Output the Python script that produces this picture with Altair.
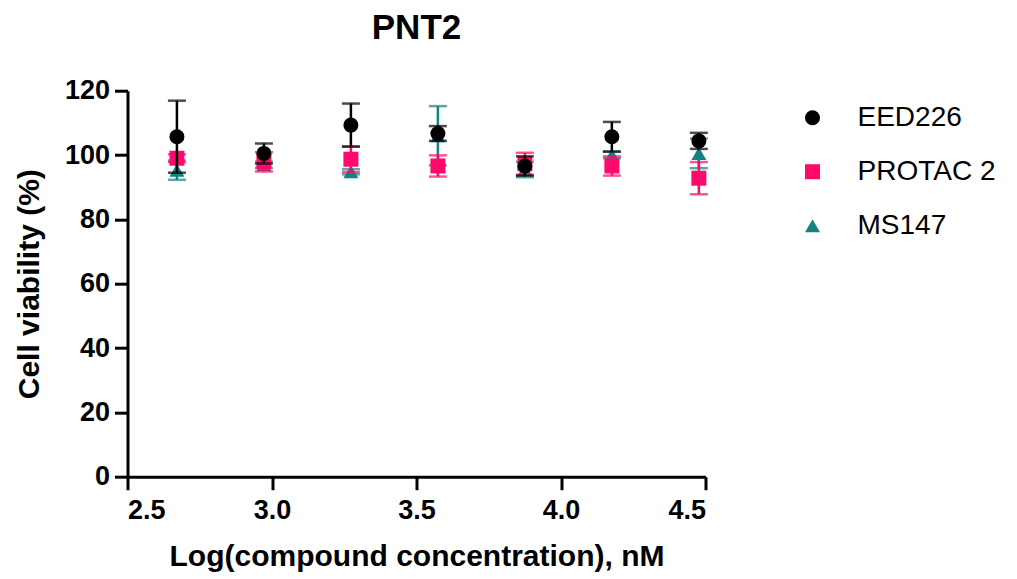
import altair as alt
import pandas as pd

# log10 of compound concentration (nM)
log_conc = [2.671, 2.972, 3.273, 3.574, 3.875, 4.176, 4.477]

series_names = ["EED226", "PROTAC 2", "MS147"]
series_colors = ["#000000", "#FF0A6C", "#138282"]
series_shapes = ["circle", "square", "triangle-up"]

eed_mean = [105.7, 100.5, 109.3, 106.7, 96.6, 105.7, 104.4]
eed_sd = [11.2, 3.1, 6.7, 2.3, 3.0, 4.6, 2.5]
protac_mean = [99.0, 97.9, 98.7, 96.6, 97.3, 96.6, 92.8]
protac_sd = [1.2, 3.0, 4.0, 3.3, 3.4, 3.0, 5.0]
ms_mean = [95.3, 97.0, 94.8, 106.0, 95.5, 100.0, 100.5]
ms_sd = [3.0, 1.0, 0.8, 9.2, 2.4, 1.0, 4.6]

means = {"EED226": eed_mean, "PROTAC 2": protac_mean, "MS147": ms_mean}
sds = {"EED226": eed_sd, "PROTAC 2": protac_sd, "MS147": ms_sd}

rows = []
for s in series_names:
    for x, m, sd in zip(log_conc, means[s], sds[s]):
        rows.append({"series": s, "x": x, "mean": m, "lo": m - sd, "hi": m + sd})
df = pd.DataFrame(rows)

FONT = "Liberation Sans"

x_enc = alt.X(
    "x:Q",
    scale=alt.Scale(domain=[2.5, 4.5], nice=False, zero=False),
    axis=alt.Axis(
        values=[2.5, 3.0, 3.5, 4.0, 4.5], format=".1f",
        title="Log(compound concentration), nM",
        labelFontSize=27, labelFont=FONT, labelFontWeight="bold", labelColor="black",
        labelPadding=8,
        titleFontSize=30, titleFont=FONT, titleFontWeight="bold", titleColor="black",
        titlePadding=18,
        domainColor="black", domainWidth=3, tickColor="black", tickWidth=3, tickSize=13,
        grid=False,
    ),
)
y_scale = alt.Scale(domain=[0, 120], nice=False, zero=True)
y_axis = alt.Axis(
    values=[0, 20, 40, 60, 80, 100, 120],
    title="Cell viability (%)",
    labelFontSize=27, labelFont=FONT, labelFontWeight="bold", labelColor="black",
    labelPadding=5,
    titleFontSize=30, titleFont=FONT, titleFontWeight="bold", titleColor="black",
    titlePadding=20,
    domainColor="black", domainWidth=3, tickColor="black", tickWidth=3, tickSize=13,
    grid=False,
)

layers = []
draw_order = ["MS147", "PROTAC 2", "EED226"]
for s in draw_order:
    col = series_colors[series_names.index(s)]
    base = alt.Chart(df).transform_filter(alt.datum.series == s)
    rule = base.mark_rule(strokeWidth=2.5, color=col).encode(
        x=x_enc, y=alt.Y("lo:Q", scale=y_scale, axis=y_axis), y2="hi:Q"
    )
    cap_hi = base.mark_tick(orient="horizontal", thickness=2.5, size=18, color=col).encode(
        x=x_enc, y=alt.Y("hi:Q", scale=y_scale, axis=y_axis)
    )
    cap_lo = base.mark_tick(orient="horizontal", thickness=2.5, size=18, color=col).encode(
        x=x_enc, y=alt.Y("lo:Q", scale=y_scale, axis=y_axis)
    )
    pts = base.mark_point(filled=True, size=225, opacity=1).encode(
        x=x_enc,
        y=alt.Y("mean:Q", scale=y_scale, axis=y_axis),
        color=alt.Color(
            "series:N",
            scale=alt.Scale(domain=series_names, range=series_colors),
            legend=alt.Legend(
                title=None, orient="none", legendX=671, legendY=13,
                labelFontSize=28, labelFont=FONT, labelColor="black",
                symbolSize=225, symbolStrokeWidth=0, rowPadding=26,
                labelOffset=31, padding=0,
            ),
        ),
        shape=alt.Shape(
            "series:N",
            scale=alt.Scale(domain=series_names, range=series_shapes),
        ),
    )
    layers += [rule, cap_hi, cap_lo, pts]

chart = alt.layer(*layers).properties(
    width=578,
    height=386,
    title=alt.TitleParams(
        "PNT2", fontSize=35, font=FONT, fontWeight="bold", color="black",
        anchor="middle", offset=31,
    ),
    autosize=alt.AutoSizeParams(type="none"),
    padding={"left": 119.5, "top": 82.7, "right": 303.5, "bottom": 101.3},
).configure_view(stroke=None)

chart.save("out.html", embed_options={"renderer": "svg", "actions": False})
